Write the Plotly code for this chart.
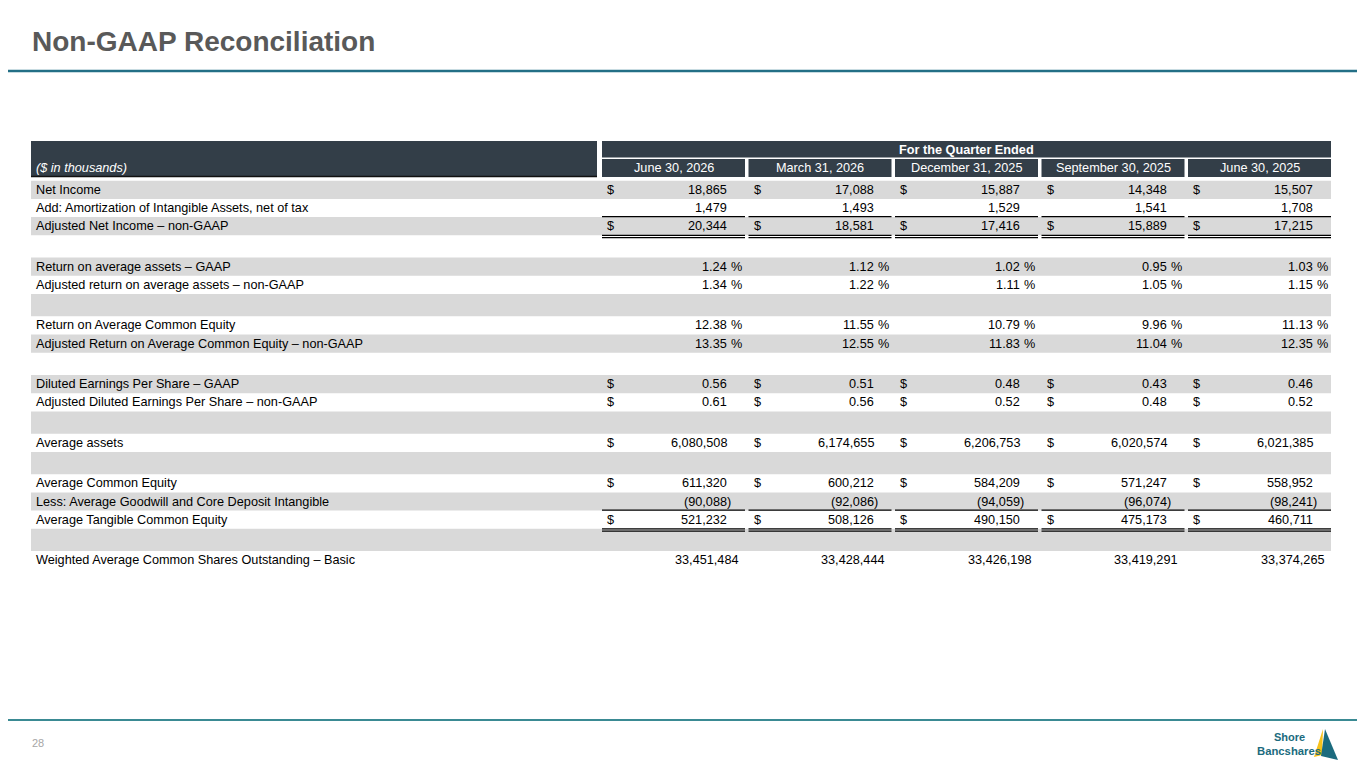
import plotly.graph_objects as go

# quarter columns
periods = ["June 30, 2026", "March 31, 2026", "December 31, 2025", "September 30, 2025", "June 30, 2025"]

# values, $ in thousands unless noted
net_income = [18865, 17088, 15887, 14348, 15507]
amortization_net_of_tax = [1479, 1493, 1529, 1541, 1708]
adj_net_income = [20344, 18581, 17416, 15889, 17215]
roaa = [1.24, 1.12, 1.02, 0.95, 1.03]
adj_roaa = [1.34, 1.22, 1.11, 1.05, 1.15]
roace = [12.38, 11.55, 10.79, 9.96, 11.13]
adj_roace = [13.35, 12.55, 11.83, 11.04, 12.35]
diluted_eps = [0.56, 0.51, 0.48, 0.43, 0.46]
adj_diluted_eps = [0.61, 0.56, 0.52, 0.48, 0.52]
avg_assets = [6080508, 6174655, 6206753, 6020574, 6021385]
avg_common_equity = [611320, 600212, 584209, 571247, 558952]
avg_goodwill_cdi = [-90088, -92086, -94059, -96074, -98241]
avg_tangible_equity = [521232, 508126, 490150, 475173, 460711]
weighted_shares = [33451484, 33428444, 33426198, 33419291, 33374265]

# (label, values, format, dollar sign, underline) ; None = spacer row
rows = [
    ("Net Income", net_income, "int", True, None),
    ("Add: Amortization of Intangible Assets, net of tax", amortization_net_of_tax, "int", False, None),
    ("Adjusted Net Income \u2013 non-GAAP", adj_net_income, "int", True, "total"),
    None,
    ("Return on average assets \u2013 GAAP", roaa, "pct", False, None),
    ("Adjusted return on average assets \u2013 non-GAAP", adj_roaa, "pct", False, None),
    None,
    ("Return on Average Common Equity", roace, "pct", False, None),
    ("Adjusted Return on Average Common Equity \u2013 non-GAAP", adj_roace, "pct", False, None),
    None,
    ("Diluted Earnings Per Share \u2013 GAAP", diluted_eps, "eps", True, None),
    ("Adjusted Diluted Earnings Per Share \u2013 non-GAAP", adj_diluted_eps, "eps", True, None),
    None,
    ("Average assets", avg_assets, "int", True, None),
    None,
    ("Average Common Equity", avg_common_equity, "int", True, None),
    ("Less: Average Goodwill and Core Deposit Intangible", avg_goodwill_cdi, "int", False, None),
    ("Average Tangible Common Equity", avg_tangible_equity, "int", True, "total"),
    None,
    ("Weighted Average Common Shares Outstanding \u2013 Basic", weighted_shares, "shares", False, None),
]

FONT = "Liberation Sans, Arial, sans-serif"
DARK = "#333e48"
GREY = "#d9d9d9"
TEAL = "#236f86"
LOGO = "#1b6b7e"
FS = 12.7  # body text size

# table geometry (page pixels)
tbl_x0, tbl_x1 = 31, 1331
lab_x1 = 597
col_w, col_step, col_x0 = 143, 146.5, 602
row_h, gap_h = 18.2, 22.3
body_y0 = 180.7

# the page body has an 8px margin, so the axes are offset to keep page pixels
PAGE_PAD = 8


def fmt(v, kind):
    if kind in ("pct", "eps"):
        return f"{v:.2f}"
    if v < 0:
        return f"({-v:,})"
    return f"{v:,}"


fig = go.Figure()
shapes = []
ann = []


def text(x, y, s, anchor="left", size=FS, color="black", **kw):
    ann.append(dict(x=x, y=y, xref="x", yref="y", text=s, showarrow=False, xanchor=anchor,
                    yanchor="middle", font=dict(family=FONT, size=size, color=color, **kw)))


def rect(x0, y0, x1, y1, color):
    shapes.append(dict(type="rect", xref="x", yref="y", x0=x0, y0=y0, x1=x1, y1=y1,
                       fillcolor=color, line=dict(width=0), layer="below"))


def hline(x0, x1, y, w=1, color="black"):
    shapes.append(dict(type="line", xref="x", yref="y", x0=x0, x1=x1, y0=y, y1=y,
                       line=dict(color=color, width=w)))


# slide furniture
rect(0, 0, 1365, 8, "#fdc010")
hline(0, 1365, 71, 2.5, TEAL)
hline(0, 1365, 720, 2, "#3a8a93")
text(30, 41, "Non-GAAP Reconciliation", size=28, color="#595959", weight="bold")
text(30, 743, "28", size=11, color="#a6a6a6")

# header
rect(tbl_x0, 141, lab_x1, 177, DARK)
hline(tbl_x0, lab_x1, 176.5, 1.5, "#111111")
rect(col_x0, 141, tbl_x1, 157.5, DARK)
text((col_x0 + tbl_x1) / 2, 149.5, "For the Quarter Ended", anchor="center", color="white", weight="bold")
text(34, 168, "($ in thousands)", color="white", style="italic")
for i, p in enumerate(periods):
    cx0 = col_x0 + i * col_step
    rect(cx0, 159, cx0 + col_w, 177, DARK)
    text(cx0 + col_w / 2, 168, p, anchor="center", color="white")

# body
y = body_y0
for r, row in enumerate(rows):
    h = gap_h if row is None else row_h
    if r % 2 == 0:
        rect(tbl_x0, y, tbl_x1, y + h, GREY)
    if row is not None:
        label, vals, kind, dollar, rule = row
        yc = y + h / 2
        text(34, yc, label)
        for i, v in enumerate(vals):
            cx0 = col_x0 + i * col_step
            cx1 = cx0 + col_w
            if dollar:
                text(cx0 + 3, yc, "$")
            if kind == "shares":
                text(cx1 - 4.5, yc, fmt(v, kind), anchor="right")
            elif kind == "pct":
                text(cx1 - 16, yc, fmt(v, kind), anchor="right")
                text(cx1 - 1, yc, "%", anchor="right")
            elif v < 0:
                text(cx1 - 12, yc, fmt(v, kind), anchor="right")
            else:
                text(cx1 - 16, yc, fmt(v, kind), anchor="right")
            if rule == "total":
                hline(cx0, cx1, y - 0.5, 1.2)
                hline(cx0, cx1, y + h, 1.2)
                hline(cx0, cx1, y + h + 2.3, 1.2)
    y += h

# logo
text(1289, 737, "Shore", anchor="center", size=11, color=LOGO, weight="bold")
text(1289, 750.5, "Bancshares", anchor="center", size=11.3, color=LOGO, weight="bold")
shapes.append(dict(type="path", xref="x", yref="y", path="M 1323 729 L 1314 757 L 1322 755 Z",
                   fillcolor="#f7c21b", line=dict(width=0)))
shapes.append(dict(type="path", xref="x", yref="y", path="M 1325 729 L 1338 760 L 1321 756 Z",
                   fillcolor=LOGO, line=dict(width=0)))

W, H = 1365 - 2 * PAGE_PAD, 768 - 2 * PAGE_PAD
fig.update_layout(
    width=W, height=H,
    margin=dict(l=0, r=0, t=0, b=0),
    paper_bgcolor="white", plot_bgcolor="white",
    xaxis=dict(range=[PAGE_PAD, PAGE_PAD + W], visible=False, fixedrange=True),
    yaxis=dict(range=[PAGE_PAD + H, PAGE_PAD], visible=False, fixedrange=True),
    showlegend=False,
    shapes=shapes,
    annotations=ann,
)
fig.write_html("out.html")
